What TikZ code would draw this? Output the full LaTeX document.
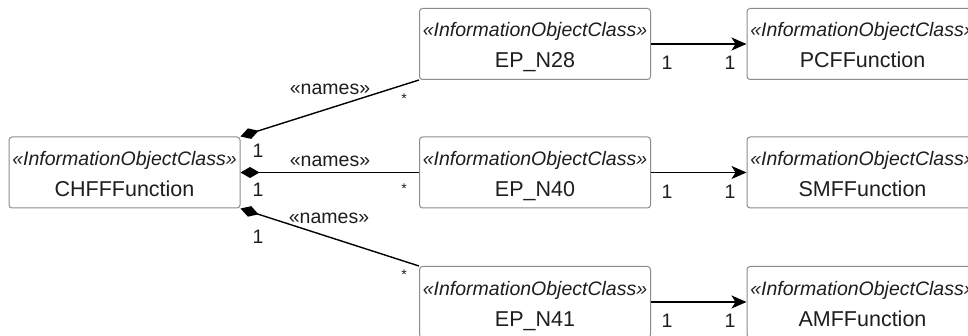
\documentclass[tikz,border=0pt]{standalone}
\usepackage{fontspec}
\setmainfont{Liberation Sans}
\usetikzlibrary{arrows.meta,calc}
\definecolor{boxline}{RGB}{140,140,140}
\definecolor{inkc}{RGB}{30,30,30}
\tikzset{
  umlbox/.style={draw=boxline, line width=1pt, rounded corners=3pt, minimum width=231pt, minimum height=71pt, inner sep=0pt, fill=white},
  stereo/.style={inner sep=0pt, text=inkc, font=\fontsize{19.5}{22}\selectfont\itshape},
  nametxt/.style={inner sep=0pt, text=inkc, font=\fontsize{21.5}{24}\selectfont},
  lbl/.style={inner sep=0pt, text=inkc, font=\fontsize{19.5}{22}\selectfont},
  star/.style={inner sep=0pt, text=inkc, font=\fontsize{14}{16}\selectfont},
  compo/.style={draw=black, line width=1.4pt, {Diamond[length=19pt,width=11pt]}-},
  assoc/.style={draw=black, line width=1.4pt, -{Stealth[length=15pt,width=13pt,inset=4pt]}}
}
\newcommand\umlbox[4]{%
  \node[umlbox] (#1) at (#2,#3) {};
  \node[stereo, anchor=base] (#1s) at ($(#1.north)+(0,29)$) {«InformationObjectClass»};
  \node[nametxt, anchor=base] (#1n) at ($(#1.north)+(0,60)$) {#4};
}
\begin{document}
\begin{tikzpicture}[x=1pt,y=-1pt]
\useasboundingbox (0,0) rectangle (968,336);
\clip (0,0) rectangle (968,336);
\fill[white] (0,0) rectangle (968,336);

\umlbox{chf}{124.5}{172.5}{CHFFFunction}
\umlbox{ep28}{535}{44}{EP\_N28}
\umlbox{ep40}{535}{172.5}{EP\_N40}
\umlbox{ep41}{535}{302}{EP\_N41}
\umlbox{pcf}{862.5}{44}{PCFFunction}
\umlbox{smf}{862.5}{172.5}{SMFFunction}
\umlbox{amf}{862.5}{302}{AMFFunction}

% composition connectors
\draw[compo] (chf.north east) -- (ep28.south west);
\draw[compo] (chf.east) -- (ep40.west);
\draw[compo] (chf.south east) -- (ep41.north west);

\node[lbl] (n1) at (330,89) {«names»};
\node[lbl] (n2) at (330,161) {«names»};
\node[lbl] (n3) at (329,218) {«names»};

\node[lbl] (c1) at (258,151) {1};
\node[lbl] (c2) at (258,190) {1};
\node[lbl] (c3) at (258,237) {1};

\node[star] (s1) at (404,99) {*};
\node[star] (s2) at (404,189) {*};
\node[star] (s3) at (404,275) {*};

% associations
\draw[assoc] (ep28.east) -- (pcf.west);
\draw[assoc] (ep40.east) -- (smf.west);
\draw[assoc] (ep41.east) -- (amf.west);

\node[lbl] (a1) at (667,63) {1};
\node[lbl] (b1) at (730,63) {1};
\node[lbl] (a2) at (667,192) {1};
\node[lbl] (b2) at (730,192) {1};
\node[lbl] (a3) at (667,321) {1};
\node[lbl] (b3) at (730,321) {1};
\end{tikzpicture}
\end{document}
